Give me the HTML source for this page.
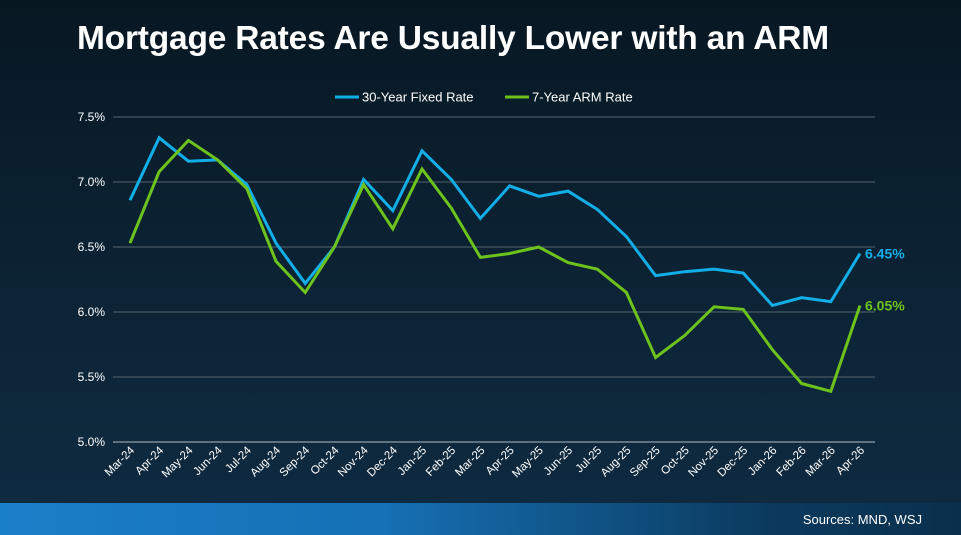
<!DOCTYPE html>
<html><head><meta charset="utf-8"><style>
body{margin:0;width:961px;height:535px;overflow:hidden;font-family:"Liberation Sans",sans-serif;}
#wrap{position:relative;width:961px;height:535px;background:linear-gradient(180deg,#071722 0%,#0b2131 40%,#0f2b42 100%);}
#title{position:absolute;left:77px;top:20px;color:#fff;font-weight:bold;font-size:33.5px;margin:0;letter-spacing:-0.2px;}
#footer{position:absolute;left:0;top:503px;width:961px;height:32px;background:linear-gradient(90deg,#1a7fc9 0%,#1670b4 40%,#0b3a5e 80%,#0a2f4c 100%);}
#src{position:absolute;right:39px;top:9px;color:#fff;font-size:13px;}
</style></head><body>
<div id="wrap">
<h1 id="title">Mortgage Rates Are Usually Lower with an ARM</h1>
<svg id="chart" width="961" height="503" style="position:absolute;left:0;top:0"></svg>
<div id="footer"><span id="src">Sources: MND, WSJ</span></div>
</div>
<script>
const categories=["Mar-24","Apr-24","May-24","Jun-24","Jul-24","Aug-24","Sep-24","Oct-24","Nov-24","Dec-24","Jan-25","Feb-25","Mar-25","Apr-25","May-25","Jun-25","Jul-25","Aug-25","Sep-25","Oct-25","Nov-25","Dec-25","Jan-26","Feb-26","Mar-26","Apr-26"];
const fixedRates=[6.86,7.34,7.16,7.17,6.98,6.53,6.22,6.50,7.02,6.78,7.24,7.02,6.72,6.97,6.89,6.93,6.79,6.58,6.28,6.31,6.33,6.30,6.05,6.11,6.08,6.45];
const armRates=[6.53,7.08,7.32,7.17,6.95,6.39,6.15,6.50,6.98,6.64,7.10,6.80,6.42,6.45,6.50,6.38,6.33,6.15,5.65,5.82,6.04,6.02,5.71,5.45,5.39,6.05];
const yTicks=[5.0,5.5,6.0,6.5,7.0,7.5];
const yTickLabels=["5.0%","5.5%","6.0%","6.5%","7.0%","7.5%"];
const seriesNames=["30-Year Fixed Rate","7-Year ARM Rate"];
const NS="http://www.w3.org/2000/svg";
const svg=document.getElementById('chart');
const x0=130,x1=860,yTop=117,yBot=442,vMin=5.0,vMax=7.5;
const xs=i=>x0+(x1-x0)*i/(categories.length-1);
const ys=v=>yBot-(v-vMin)/(vMax-vMin)*(yBot-yTop);
function mk(t,a){const e=document.createElementNS(NS,t);for(const k in a)e.setAttribute(k,a[k]);svg.appendChild(e);return e;}
yTicks.forEach((v,i)=>{
 const l=mk('line',{x1:113,x2:875,y1:ys(v),y2:ys(v),stroke:i==0?'#7b8a96':'#56636d','stroke-width':i==0?1.5:1});
 
 
 const t=mk('text',{x:105,y:ys(v)+4,'text-anchor':'end',fill:'#fff','font-size':12,'font-family':'Liberation Sans, sans-serif'});
 t.textContent=yTickLabels[i];
 
 
});
categories.forEach((c,i)=>{
 const t=mk('text',{transform:`translate(${xs(i)+5},${451}) rotate(-45)`,'text-anchor':'end',fill:'#fff','font-size':11.5,'font-family':'Liberation Sans, sans-serif'});
 t.textContent=c;
 
 
});
function line(vals,col,name){
 const p=mk('polyline',{points:vals.map((v,i)=>xs(i)+','+ys(v)).join(' '),fill:'none',stroke:col,'stroke-width':3,'stroke-linejoin':'miter'});
 
 
 const last=vals.length-1;
 const t=mk('text',{x:xs(last)+5,y:ys(vals[last])+5,fill:col,'font-size':14,'font-weight':'bold','font-family':'Liberation Sans, sans-serif'});
 t.textContent=vals[last].toFixed(2)+'%';
 
 
}
line(fixedRates,'#12aee8','fixed-rate-line');
line(armRates,'#6dc21c','arm-rate-line');
[[335,'#12aee8',0],[505,'#6dc21c',1]].forEach(([lx,col,i])=>{
 const l=mk('line',{x1:lx,x2:lx+24,y1:97,y2:97,stroke:col,'stroke-width':3});
 
 
 const t=mk('text',{x:lx+27,y:101.5,fill:'#fff','font-size':13,'font-family':'Liberation Sans, sans-serif'});
 t.textContent=seriesNames[i];
 
 
});
</script>
</body></html>
